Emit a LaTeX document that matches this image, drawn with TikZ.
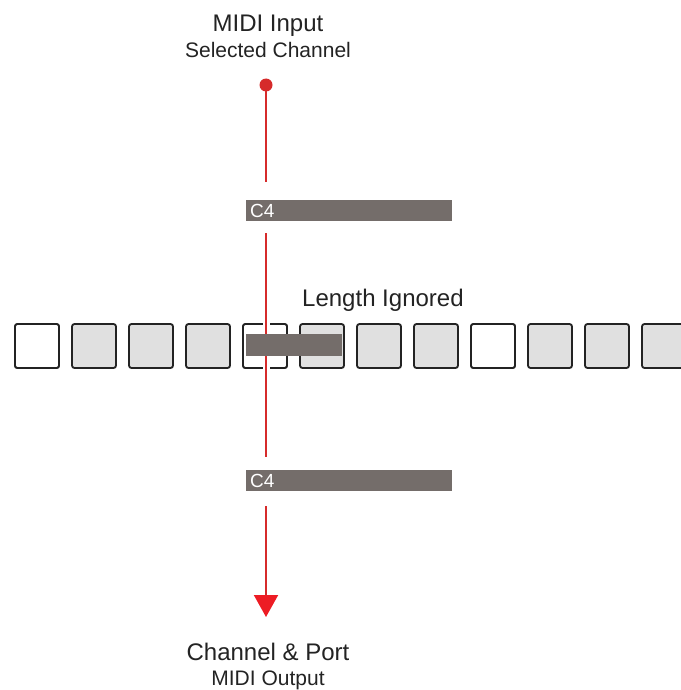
\documentclass[tikz,border=0pt]{standalone}
\usepackage{fontspec}
\setmainfont{Liberation Sans}
\definecolor{sigred}{RGB}{214, 43, 43}
\definecolor{tipred}{RGB}{237, 28, 36}
\definecolor{bargray}{RGB}{116, 109, 106}
\definecolor{cellgray}{RGB}{224, 224, 224}
\definecolor{txtgray}{RGB}{35, 35, 35}
\usetikzlibrary{arrows.meta, positioning}

\tikzset{
  cell/.style={draw=txtgray, line width=1.8pt, rounded corners=2.5pt, minimum size=44pt, inner sep=0pt, fill=cellgray},
  notebar/.style={fill=bargray, inner sep=0pt, anchor=north west, minimum height=21pt, text=white, font=\fontsize{19}{22}\selectfont, text depth=0pt, align=left},
  sigline/.style={sigred, line width=2pt, preaction={draw=white, line width=7pt}},
  biglabel/.style={text=txtgray, font=\fontsize{24}{28}\selectfont, anchor=base, inner sep=0pt},
  smalllabel/.style={text=txtgray, font=\fontsize{21}{24}\selectfont, anchor=base, inner sep=0pt}
}

\begin{document}
\begin{tikzpicture}[x=1pt, y=-1pt]
\useasboundingbox (0,0) rectangle (680,690);

% labels
\node[biglabel] (intitle) at (268,32) {MIDI Input};
\node[smalllabel] (insub) at (268,58) {Selected Channel};
\node[biglabel, anchor=base west] (lenlabel) at (302,306) {Length Ignored};
\node[biglabel] (outtitle) at (268,660) {Channel \& Port};
\node[smalllabel] (outsub) at (268,685) {MIDI Output};

% step row
\foreach \i in {0,...,11}{
  \node[cell] (cell\i) at (37+57*\i,346) {};
}
\foreach \i in {0,4,8}{
  \node[cell, fill=white] at (cell\i) {};
}

% input dot and top note
\node[circle, fill=sigred, minimum size=13pt, inner sep=0pt] (indot) at (266,85) {};
\node[notebar, minimum width=206pt, text width=198pt, inner xsep=4pt] (inbar) at (246,200) {C4};
\draw[sigred, line width=2pt] (indot.center) -- ([yshift=18pt]inbar.north -| indot);

% through the steps
\node[notebar, minimum width=206pt, text width=198pt, inner xsep=4pt] (outbar) at (246,470) {C4};
\draw[sigline] ([yshift=-12pt]inbar.south -| indot) -- ([yshift=13pt]outbar.north -| indot);
\node[fill=bargray, minimum width=96pt, minimum height=22pt, inner sep=0pt, anchor=north west] (lenbar) at (246,334) {};

% output arrow
\coordinate (outtip) at (266,617);
\draw[sigred, line width=2pt, -{Triangle[length=22pt, width=24pt, color=tipred]}] ([yshift=-15pt]outbar.south -| indot) -- (outtip);
\end{tikzpicture}
\end{document}
